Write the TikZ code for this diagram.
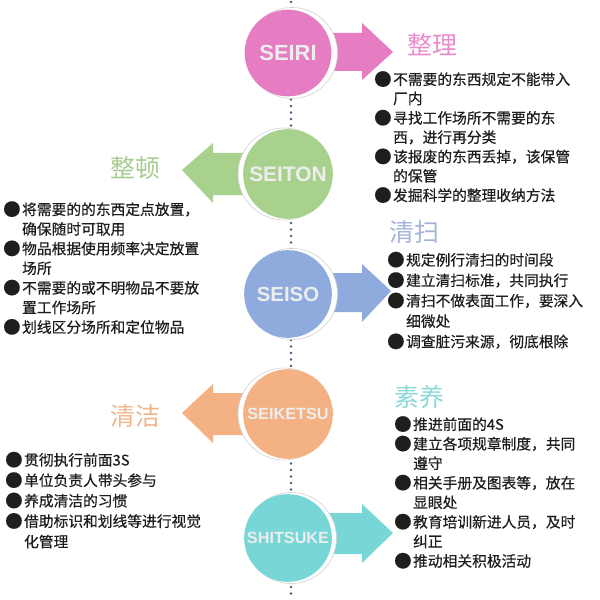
\documentclass[tikz,border=0pt]{standalone}
\usepackage{fontspec}
\newfontfamily\cjk{Noto Sans CJK SC}
\newfontfamily\cjkb{Noto Sans CJK SC}[FakeBold=0.45]
\newfontfamily\lat{Liberation Sans}
\definecolor{dotc}{HTML}{4A5B7C}
\definecolor{pinkc}{HTML}{E67CC2}
\definecolor{pinkt}{HTML}{E98CCB}
\definecolor{greenc}{HTML}{A9D18E}
\definecolor{greent}{HTML}{A6CC8E}
\definecolor{bluec}{HTML}{8FAADC}
\definecolor{bluet}{HTML}{A3B4D6}
\definecolor{orangec}{HTML}{F4B183}
\definecolor{oranget}{HTML}{F2B68E}
\definecolor{tealc}{HTML}{78D6D6}
\definecolor{tealt}{HTML}{8ED8D8}
\definecolor{txt}{HTML}{1E1E1E}
\tikzset{
  circ/.style={circle, inner sep=0pt, minimum size=#1, text=white!93!black, font=\lat\bfseries},
  halo/.style={fill=white, draw=black!18, line width=0.6bp},
  ttl/.style={font=\cjk\fontsize{25}{25}\selectfont, inner sep=0pt},
  lst/.style={anchor=north west, inner sep=0pt, text=txt},
}
\newcommand{\bul}{\raisebox{-0.8bp}{\fontsize{17.5}{17.5}\selectfont ●}}
\newcommand{\mylist}[2]{\fontsize{14.8}{#1}\selectfont\cjkb\begin{tabular}{@{}c@{\hspace{1.5bp}}l@{}}#2\end{tabular}}
\begin{document}
\begin{tikzpicture}[x=1bp,y=-1bp]
\useasboundingbox (0,0) rectangle (600,600);
\fill[white] (0,0) rectangle (600,600);
\draw[dotc, line width=2.8bp, line cap=round, dash pattern=on 0bp off 6.5bp] (291,2) -- (291,600);

% arrows
\fill[pinkc] (315,33) -- (362,33) -- (362,23) -- (393,52) -- (362,80) -- (362,71) -- (315,71) -- cycle;
\fill[greenc] (260,153) -- (213,153) -- (213,143) -- (182,170) -- (213,203) -- (213,195) -- (260,195) -- cycle;
\fill[bluec] (315,273) -- (362,273) -- (362,264) -- (391,291) -- (362,322) -- (362,312) -- (315,312) -- cycle;
\fill[orangec] (260,393) -- (213,393) -- (213,384) -- (182,413) -- (213,443) -- (213,435) -- (260,435) -- cycle;
\fill[tealc] (315,513) -- (362,513) -- (362,504) -- (393,533) -- (362,563) -- (362,554) -- (315,554) -- cycle;

% halos
\filldraw[halo] (292,53) circle (45.5);
\filldraw[halo] (284,174) circle (46);
\filldraw[halo] (292,294) circle (45.5);
\filldraw[halo] (284,414) circle (46);
\filldraw[halo] (291,538) circle (45.5);

% circles
\node[circ=87, fill=pinkc, font=\lat\bfseries\fontsize{22}{22}\selectfont] (seiri) at (288,53) {SEIRI};
\node[circ=90, fill=greenc, font=\lat\bfseries\fontsize{21}{21}\selectfont] (seiton) at (288,174) {SEITON};
\node[circ=88, fill=bluec, font=\lat\bfseries\fontsize{20.5}{20.5}\selectfont] (seiso) at (288,294) {SEISO};
\node[circ=90, fill=orangec, font=\lat\bfseries\fontsize{16.3}{16.3}\selectfont] (seiketsu) at (288,414) {SEIKETSU};
\node[circ=88, fill=tealc, font=\lat\bfseries\fontsize{16.3}{16.3}\selectfont] (shitsuke) at (288,538) {SHITSUKE};

% titles
\node[ttl, text=pinkt] (t1) at (432,45) {整理};
\node[ttl, text=greent] (t2) at (135,168) {整顿};
\node[ttl, text=bluet] (t3) at (414,232) {清扫};
\node[ttl, text=oranget] (t4) at (135,416) {清洁};
\node[ttl, text=tealt] (t5) at (419,397) {素养};

% lists
\node[lst] (l1) at (374,71) {\mylist{19.3}{%
\bul & 不需要的东西规定不能带入\\
  & 厂内\\
\bul & 寻找工作场所不需要的东\\
  & 西，进行再分类\\
\bul & 该报废的东西丢掉，该保管\\
  & 的保管\\
\bul & 发掘科学的整理收纳方法}};
\node[lst] (l2) at (3,201) {\mylist{19.7}{%
\bul & 将需要的的东西定点放置，\\
  & 确保随时可取用\\
\bul & 物品根据使用频率决定放置\\
  & 场所\\
\bul & 不需要的或不明物品不要放\\
  & 置工作场所\\
\bul & 划线区分场所和定位物品}};
\node[lst] (l3) at (387,251) {\mylist{20.5}{%
\bul & 规定例行清扫的时间段\\
\bul & 建立清扫标准，共同执行\\
\bul & 清扫不做表面工作，要深入\\
  & 细微处\\
\bul & 调查脏污来源，彻底根除}};
\node[lst] (l4) at (5,451) {\mylist{20.5}{%
\bul & 贯彻执行前面3S\\
\bul & 单位负责人带头参与\\
\bul & 养成清洁的习惯\\
\bul & 借助标识和划线等进行视觉\\
  & 化管理}};
\node[lst] (l5) at (394,416) {\mylist{19.6}{%
\bul & 推进前面的4S\\
\bul & 建立各项规章制度，共同\\
  & 遵守\\
\bul & 相关手册及图表等，放在\\
  & 显眼处\\
\bul & 教育培训新进人员，及时\\
  & 纠正\\
\bul & 推动相关积极活动}};
\end{tikzpicture}
\end{document}
